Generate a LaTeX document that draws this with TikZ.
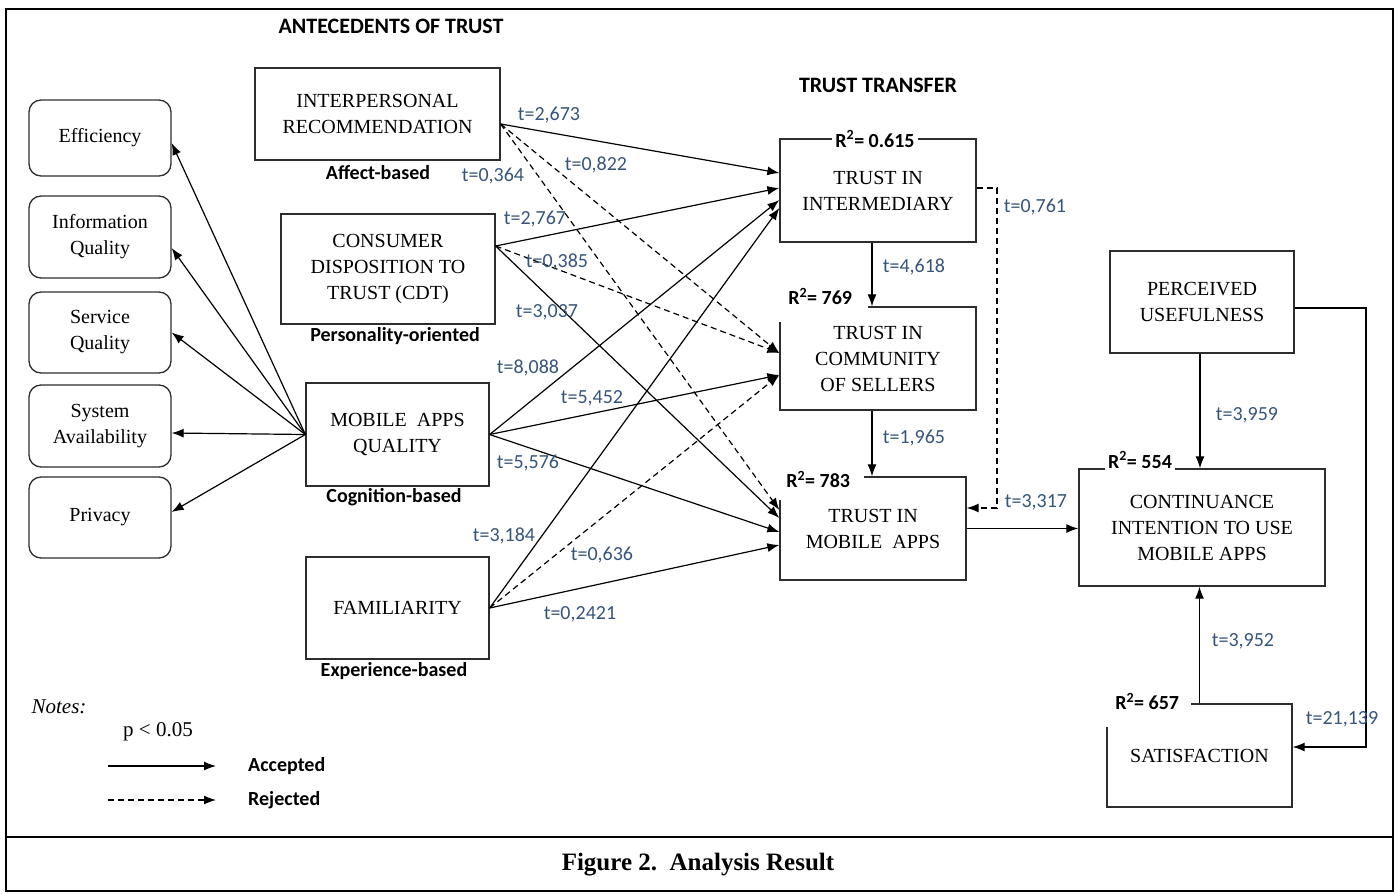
\documentclass[tikz,border=0pt]{standalone}
\usepackage{fontspec}
\setmainfont{Liberation Serif}
\newfontfamily\calib{Carlito}
\usetikzlibrary{arrows.meta,calc}
\definecolor{tcol}{RGB}{55,84,122}
\definecolor{bcol}{RGB}{45,45,45}
\begin{document}
\begin{tikzpicture}[x=1pt,y=-1pt,
  box/.style={draw=bcol, line width=1.3pt, align=center, inner sep=0pt, font=\fontsize{20}{26}\selectfont},
  rbox/.style={box, rounded corners=12pt},
  arr/.style={-{Latex[length=12pt,width=9pt]}, line width=1.2pt},
  darr/.style={arr, dash pattern=on 6pt off 4pt},
  tl/.style={text=tcol, font=\calib\fontsize{20}{24}\selectfont, inner sep=0pt},
  sub/.style={font=\calib\bfseries\fontsize{20}{24}\selectfont, inner sep=0pt},
  r2/.style={fill=white, font=\calib\bfseries\fontsize{20}{24}\selectfont, inner sep=3pt},
  head/.style={font=\calib\bfseries\fontsize{22}{26}\selectfont, inner sep=0pt}
]
\useasboundingbox (0,0) rectangle (1398,894);
\draw[line width=2pt] (6,9) rectangle (1393,891);
\draw[line width=2pt] (6,837) -- (1393,837);

% headings
\node[head] (ant) at (391,26) {ANTECEDENTS OF TRUST};
\node[head] (tt) at (878,85) {TRUST TRANSFER};

% left rounded boxes
\node[rbox, minimum width=142pt, minimum height=76pt] (eff) at (100,138) {Efficiency};
\node[rbox, minimum width=142pt, minimum height=82pt] (iq) at (100,237) {Information\\Quality};
\node[rbox, minimum width=142pt, minimum height=81pt] (sq) at (100,332.5) {Service\\Quality};
\node[rbox, minimum width=142pt, minimum height=82pt] (sa) at (100,426) {System\\Availability};
\node[rbox, minimum width=142pt, minimum height=81pt] (pr) at (100,517.5) {Privacy};

% antecedents
\node[box, minimum width=245pt, minimum height=92pt] (ir) at (377.5,114) {INTERPERSONAL\\RECOMMENDATION};
\node[box, minimum width=214pt, minimum height=110pt] (cdt) at (388,269) {CONSUMER\\DISPOSITION TO\\TRUST (CDT)};
\node[box, minimum width=183pt, minimum height=103pt] (maq) at (397.5,434.5) {MOBILE\ \ APPS\\QUALITY};
\node[box, minimum width=183pt, minimum height=102pt] (fam) at (397.5,608) {FAMILIARITY};

\node[sub] (affect) at (378,173) {Affect-based};
\node[sub] (pers) at (395,336) {Personality-oriented};
\node[sub] (cogn) at (394,497) {Cognition-based};
\node[sub] (exper) at (394,671) {Experience-based};

% trust transfer
\node[box, minimum width=196pt, minimum height=103pt] (tii) at (878,190.5) {TRUST IN\\INTERMEDIARY};
\node[box, minimum width=196pt, minimum height=103pt] (tics) at (878,358.5) {TRUST IN\\COMMUNITY\\OF SELLERS};
\node[box, minimum width=186pt, minimum height=103pt] (tima) at (873,528.5) {TRUST IN\\MOBILE\ \ APPS};

% outcomes
\node[box, minimum width=184pt, minimum height=102pt] (pu) at (1202,302) {PERCEIVED\\USEFULNESS};
\node[box, minimum width=246pt, minimum height=117pt] (ci) at (1202,527.5) {CONTINUANCE\\INTENTION TO USE\\MOBILE APPS};
\node[box, minimum width=185pt, minimum height=103pt] (sat) at (1199.5,755.5) {SATISFACTION};

% R2 labels
\node[r2] (r1) at (875,139) {R\textsuperscript{2}= 0.615};
\node[r2, anchor=north west, text depth=14pt, minimum width=96pt, align=left] (r2b) at (772,285) {R\textsuperscript{2}= 769};
\node[r2, anchor=north west, text depth=9pt, minimum width=92pt, align=left] (r3) at (772,468) {R\textsuperscript{2}= 783};
\node[r2, anchor=base] (r4) at (1140,468) {R\textsuperscript{2}= 554};
\node[r2, anchor=north west, text depth=14pt, minimum width=88pt, align=left] (r5) at (1103,690) {R\textsuperscript{2}= 657};

% left arrows
\draw[arr] (maq.west) -- ([yshift=-5pt]eff.east);
\draw[arr] (maq.west) -- ([yshift=-11pt]iq.east);
\draw[arr] (maq.west) -- (sq.east);
\draw[arr] (maq.west) -- ([yshift=-7pt]sa.east);
\draw[arr] (maq.west) -- ([yshift=5.5pt]pr.east);

% antecedents -> trust transfer
\draw[arr]  ([yshift=-10pt]ir.east) -- ([yshift=17.5pt]tii.west);
\draw[darr] ([yshift=-10pt]ir.east) -- ([yshift=5.5pt]tics.west);
\draw[darr] ([yshift=-10pt]ir.east) -- ([yshift=18.5pt]tima.west);

\draw[arr]  ([yshift=23pt]cdt.east) -- ([yshift=2.5pt]tii.west);
\draw[darr] ([yshift=23pt]cdt.east) -- ([yshift=5.5pt]tics.west);
\draw[arr]  ([yshift=23pt]cdt.east) -- ([yshift=10.5pt]tima.west);

\draw[arr] (maq.east) -- ([yshift=-9.5pt]tii.west);
\draw[arr] (maq.east) -- ([yshift=-16.5pt]tics.west);
\draw[arr] (maq.east) -- ([yshift=-3.5pt]tima.west);

\draw[arr]  (fam.east) -- ([yshift=-17.5pt]tii.west);
\draw[darr] (fam.east) -- ([yshift=-16.5pt]tics.west);
\draw[arr]  (fam.east) -- ([yshift=-16.5pt]tima.west);

% trust transfer chain
\draw[arr] ([xshift=-6pt]tii.south) -- ([xshift=-6pt]tii.south |- tics.north);
\draw[arr] ([xshift=-6pt]tics.south) -- ([xshift=-6pt]tics.south |- tima.north);
\coordinate (dbend) at (997,508);
\draw[darr] ([yshift=2.5pt]tii.east) -| (dbend) -- (dbend -| tima.east);
\draw[arr] (tima.east) -- (tima.east -| ci.west);

% outcomes
\draw[arr] ([xshift=-2pt]pu.south) -- ([xshift=-2pt]pu.south |- ci.north);
\draw[arr] (sat.north) -- (sat.north |- ci.south);
\coordinate (pbend) at (1366,747);
\draw[arr] ([yshift=-6pt]pu.east) -| (pbend) -- (pbend -| sat.east);

% t labels
\node[tl] (t1) at (549,115) {t=2,673};
\node[tl] (t2) at (493,176) {t=0,364};
\node[tl] (t3) at (596,165) {t=0,822};
\node[tl] (t4) at (535,219) {t=2,767};
\node[tl] (t5) at (557,262) {t=0,385};
\node[tl] (t6) at (547,312) {t=3,037};
\node[tl] (t7) at (528,368) {t=8,088};
\node[tl] (t8) at (592,398) {t=5,452};
\node[tl] (t9) at (528,463) {t=5,576};
\node[tl] (t10) at (504,536) {t=3,184};
\node[tl] (t11) at (602,555) {t=0,636};
\node[tl] (t12) at (580,614) {t=0,2421};
\node[tl] (t13) at (914,267) {t=4,618};
\node[tl] (t14) at (1035,207) {t=0,761};
\node[tl] (t15) at (914,438) {t=1,965};
\node[tl] (t16) at (1036,502) {t=3,317};
\node[tl] (t17) at (1247,415) {t=3,959};
\node[tl] (t18) at (1243,641) {t=3,952};
\node[tl] (t19) at (1342,719) {t=21,139};

% notes / legend
\node[font=\itshape\fontsize{21}{24}\selectfont, inner sep=0pt] (notes) at (59,707) {Notes:};
\node[font=\fontsize{21}{24}\selectfont, inner sep=0pt] (pval) at (158,732) {p < 0.05};
\node[sub, anchor=west] (acc) at (248,766) {Accepted};
\node[sub, anchor=west] (rej) at (248,800) {Rejected};
\coordinate (la) at (108,766);
\coordinate (lb) at (216,766);
\coordinate (lc) at (108,800);
\coordinate (ld) at (216,800);
\draw[arr] (la) -- (lb);
\draw[darr] (lc) -- (ld);

% caption
\node[font=\bfseries\fontsize{25}{28}\selectfont, inner sep=0pt] (cap) at (698,865) {Figure 2.\ \ Analysis Result};
\end{tikzpicture}
\end{document}
